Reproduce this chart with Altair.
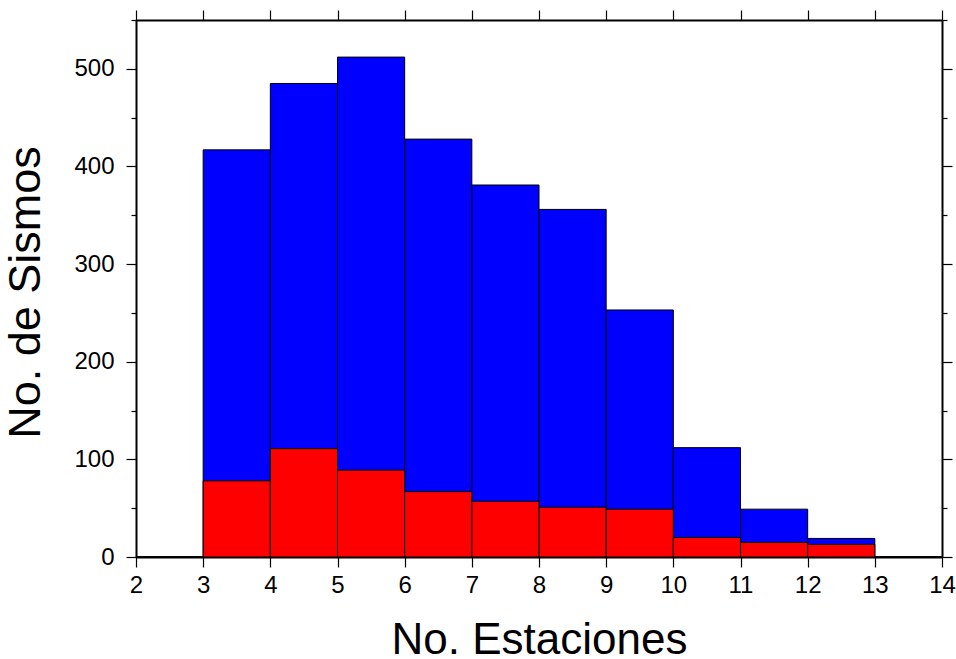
import altair as alt
import pandas as pd

# Histogram of earthquakes by number of recording stations
bin_start = [2, 3, 4, 5, 6, 7, 8, 9, 10, 11, 12, 13]
bin_end = [3, 4, 5, 6, 7, 8, 9, 10, 11, 12, 13, 14]
total_events = [0, 417, 485, 512, 428, 381, 356, 253, 112, 49, 19, 0]
subset_events = [0, 78, 111, 89, 67, 57, 51, 49, 20, 15, 13, 0]

x_ticks = list(range(2, 15))
y_ticks = list(range(0, 551, 50))

df = pd.DataFrame({
    "start": bin_start,
    "end": bin_end,
    "total": total_events,
    "subset": subset_events,
})

FONT = "Liberation Sans"
major_minor = {"condition": {"test": "datum.value % 100 === 0", "value": 10}, "value": 5}

x_scale = alt.Scale(domain=[2, 14], nice=False, zero=False)
y_scale = alt.Scale(domain=[0, 550], nice=False)

common_axis = dict(
    domainColor="black", domainWidth=2,
    tickColor="black", tickWidth=1.2,
    labelFont=FONT, labelColor="black",
    titleFont=FONT, titleColor="black", titleFontWeight="normal",
    grid=False,
)

x_bottom = alt.Axis(
    orient="bottom", values=x_ticks, tickSize=10, labelFontSize=24,
    labelPadding=6, title="No. Estaciones", titleFontSize=44,
    titleX=403, titleY=96, titleBaseline="alphabetic", titleAnchor="middle",
    labelFlush=False, **common_axis,
)
y_left = alt.Axis(
    orient="left", values=y_ticks, tickSize=major_minor,
    labelExpr="datum.value % 100 === 0 ? datum.label : ''",
    labelFontSize=24, labelPadding=12, title="No. de Sismos", titleFontSize=45,
    titleX=-97, titleY=272, titleAngle=270, titleBaseline="alphabetic",
    titleAlign="center", labelFlush=False, **common_axis,
)
x_top = alt.Axis(orient="top", values=x_ticks, tickSize=10, labels=False,
                 title=None, **common_axis)
y_right = alt.Axis(orient="right", values=y_ticks, tickSize=major_minor,
                   labels=False, title=None, **common_axis)

all_bars = alt.Chart(df).mark_rect(
    color="#0000ff", stroke="black", strokeWidth=1
).encode(
    x=alt.X("start:Q", scale=x_scale, axis=x_bottom),
    x2="end:Q",
    y=alt.Y("total:Q", scale=y_scale, axis=y_left),
    y2=alt.datum(0),
)

sub_bars = alt.Chart(df).mark_rect(
    color="#ff0000", stroke="black", strokeWidth=1
).encode(
    x=alt.X("start:Q", scale=x_scale, axis=x_top),
    x2="end:Q",
    y=alt.Y("subset:Q", scale=y_scale, axis=y_right),
    y2=alt.datum(0),
)

chart = alt.layer(all_bars, sub_bars).resolve_axis(
    x="independent", y="independent"
).properties(
    width=806, height=537,
    autosize=alt.AutoSizeParams(type="none"),
    padding={"left": 136, "top": 20, "right": 14, "bottom": 102},
    background="white",
).configure_view(stroke=None)

chart.save("out.html", embed_options={"renderer": "svg", "actions": False})
